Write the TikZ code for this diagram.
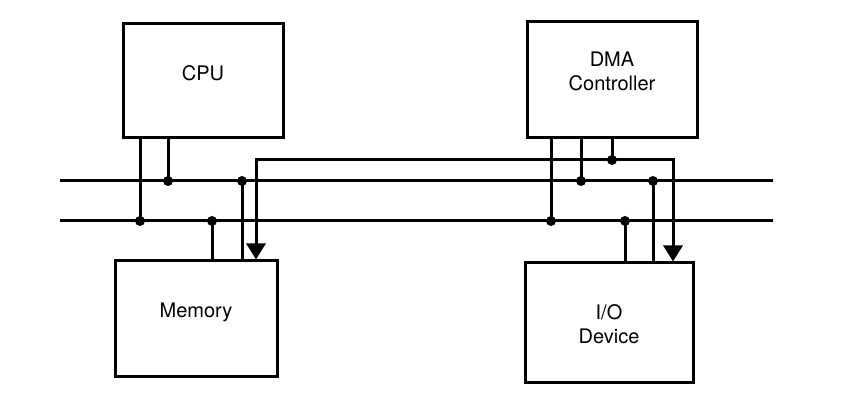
\documentclass[tikz,border=0pt]{standalone}
\usepackage{fontspec}
\setmainfont{TeX Gyre Heros}
\usetikzlibrary{arrows.meta}
\usetikzlibrary{calc}

\tikzset{
  unitbox/.style={draw,line width=3pt,inner sep=0pt},
  lbl/.style={font=\fontsize{20}{24}\selectfont,align=center},
  ctrl/.style={arrows={Triangle[width=19pt,length=16pt]-Triangle[width=19pt,length=16pt]}}
}

\begin{document}
\begin{tikzpicture}[x=1pt,y=1pt,line width=3pt]
  \useasboundingbox (0,0) rectangle (856,403);
  % the four units
  \node[unitbox,minimum width=160,minimum height=114] (cpu) at (203,322) {};
  \node[unitbox,minimum width=162,minimum height=116] (mem) at (196,84) {};
  \node[unitbox,minimum width=170,minimum height=116] (dma) at (612,323) {};
  \node[unitbox,minimum width=168,minimum height=120] (io) at (609,80) {};
  \node[lbl] (cpuT) at ([yshift=8]cpu.center) {CPU};
  \node[lbl] (memT) at ([yshift=7]mem.center) {Memory};
  \node[lbl] (dmaT) at ([yshift=8.5]dma.center) {DMA\\Controller};
  \node[lbl] (ioT) at ([yshift=-1]io.center) {I/O\\Device};

  % the two bus lines
  \coordinate (busAL) at (60,222);
  \coordinate (busAR) at (773,222);
  \coordinate (busBL) at (60,182);
  \coordinate (busBR) at (773,182);
  \draw (busAL)--(busAR);
  \draw (busBL)--(busBR);

  % taps on the buses
  \coordinate (c1) at (140,182);
  \coordinate (c2) at (168,222);
  \coordinate (m1) at (212,182);
  \coordinate (m2) at (242,222);
  \coordinate (d1) at (551,182);
  \coordinate (d2) at (581,222);
  \coordinate (i1) at (625,182);
  \coordinate (i2) at (653,222);
  \draw (c1 |- cpu.south)--(c1);
  \draw (c2 |- cpu.south)--(c2);
  \draw (m1 |- mem.north)--(m1);
  \draw (m2 |- mem.north)--(m2);
  \draw (d1 |- dma.south)--(d1);
  \draw (d2 |- dma.south)--(d2);
  \draw (i1 |- io.north)--(i1);
  \draw (i2 |- io.north)--(i2);

  % control line
  \coordinate (ctlL) at (256,243);
  \coordinate (ctlR) at (673,243);
  \coordinate (d3) at (612,243);
  \draw[ctrl] (ctlL |- mem.north)--(ctlL)--(ctlR)--(ctlR |- io.north);
  \draw (d3 |- dma.south)--(d3);

  \path[fill] (c1) circle (5);
  \path[fill] (c2) circle (5);
  \path[fill] (m1) circle (5);
  \path[fill] (m2) circle (5);
  \path[fill] (d1) circle (5);
  \path[fill] (d2) circle (5);
  \path[fill] (d3) circle (5);
  \path[fill] (i1) circle (5);
  \path[fill] (i2) circle (5);
\end{tikzpicture}
\end{document}
